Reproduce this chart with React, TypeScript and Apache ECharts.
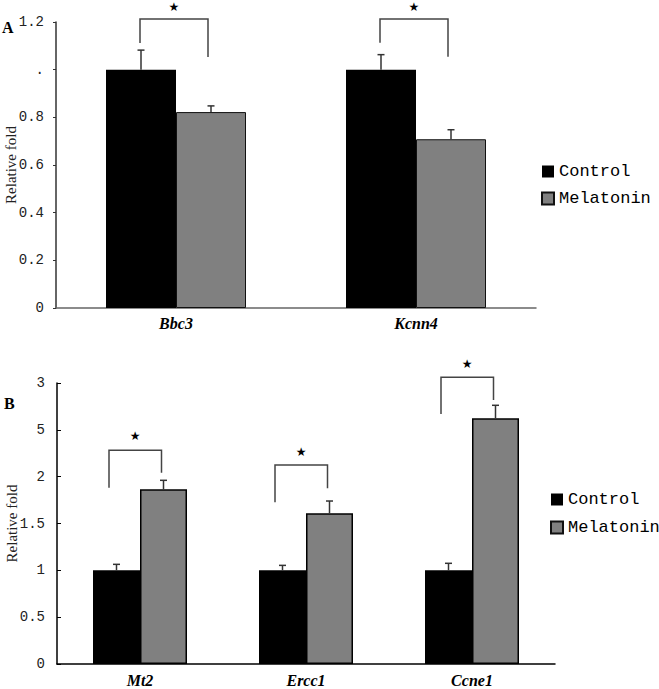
import React, { useEffect, useRef } from "react";
import * as echarts from "echarts";

// Panel A data
const categoriesA = ["Bbc3", "Kcnn4"];
const controlA = [1.0, 1.0];
const controlErrA = [0.082, 0.063];
const melatoninA = [0.822, 0.708];
const melatoninErrA = [0.026, 0.04];
const yLabelsA = ["0", "0.2", "0.4", "0.6", "0.8", ".", "1.2"];
// [category, leftBottom, rightBottom, top, star]
const bracketsA = [
  [0, 1.112, 1.053, 1.213, 1.262],
  [1, 1.113, 1.054, 1.213, 1.262],
];

// Panel B data
const categoriesB = ["Mt2", "Ercc1", "Ccne1"];
const controlB = [1.0, 1.0, 1.0];
const controlErrB = [0.064, 0.053, 0.075];
const melatoninB = [1.865, 1.609, 2.623];
const melatoninErrB = [0.096, 0.131, 0.139];
const yLabelsB = ["0", "0.5", "1", "1.5", "2", "5", "3"];
const bracketsB = [
  [0, 1.882, 2.042, 2.281, 2.434],
  [1, 1.726, 1.876, 2.124, 2.267],
  [2, 2.669, 2.818, 3.061, 3.203],
];

const seriesNames = ["Control", "Melatonin"];

const BW_A = 70;
const BW_B = 47;

function errSeries(axisIndex: number, vals: number[], errs: number[], offset: number) {
  return {
    type: "custom",
    xAxisIndex: axisIndex,
    yAxisIndex: axisIndex,
    silent: true,
    z: 5,
    data: vals.map((v, i) => [i, v + errs[i], v]),
    renderItem: (params: any, api: any) => {
      const idx = api.value(0);
      const top = api.coord([idx, api.value(1)]);
      const base = api.coord([idx, api.value(2)]);
      const x = top[0] + offset;
      const st = { stroke: "#333", lineWidth: 1.5 };
      return {
        type: "group",
        children: [
          { type: "line", shape: { x1: x, y1: base[1], x2: x, y2: top[1] }, style: st },
          { type: "line", shape: { x1: x - 3.5, y1: top[1], x2: x + 3.5, y2: top[1] }, style: st },
        ],
      };
    },
  };
}

function bracketSeries(axisIndex: number, brackets: number[][], lOff: number, rOff: number) {
  return {
    type: "custom",
    xAxisIndex: axisIndex,
    yAxisIndex: axisIndex,
    silent: true,
    z: 5,
    data: brackets,
    renderItem: (params: any, api: any) => {
      const idx = api.value(0);
      const lb = api.coord([idx, api.value(1)]);
      const rb = api.coord([idx, api.value(2)]);
      const tp = api.coord([idx, api.value(3)]);
      const sp = api.coord([idx, api.value(4)]);
      const xl = lb[0] + lOff;
      const xr = lb[0] + rOff;
      return {
        type: "group",
        children: [
          {
            type: "polyline",
            shape: {
              points: [
                [xl, lb[1]],
                [xl, tp[1]],
                [xr, tp[1]],
                [xr, rb[1]],
              ],
            },
            style: { stroke: "#444", lineWidth: 1.5, fill: "none" },
          },
          {
            type: "text",
            style: {
              text: "★",
              x: (xl + xr) / 2,
              y: sp[1],
              align: "center",
              verticalAlign: "middle",
              fontSize: 12,
              fontFamily: "DejaVu Sans",
              fill: "#000",
            },
          },
        ],
      };
    },
  };
}

export default function App() {
  const ref = useRef<HTMLDivElement>(null);
  useEffect(() => {
    const chart = echarts.init(ref.current!, null, { renderer: "svg" });
    const tickFont = { fontFamily: "Liberation Mono", fontSize: 14, color: "#222" };
    const catFont = (size: number) => ({
      fontFamily: "Liberation Serif",
      fontSize: size,
      fontStyle: "italic",
      fontWeight: "bold",
      color: "#000",
    });
    const nameStyle = { fontFamily: "Liberation Serif", fontSize: 15, color: "#222" };
    const legendText = { fontFamily: "Liberation Mono", fontSize: 17, color: "#000" };

    chart.setOption({
      animation: false,
      backgroundColor: "#fff",
      graphic: [
        { type: "text", left: 2, top: 19, style: { text: "A", fontFamily: "Liberation Serif", fontWeight: "bold", fontSize: 16, fill: "#000" } },
        { type: "text", left: 4, top: 395, style: { text: "B", fontFamily: "Liberation Serif", fontWeight: "bold", fontSize: 16, fill: "#000" } },
      ],
      legend: [
        {
          orient: "vertical",
          left: 536,
          top: 158,
          itemWidth: 12,
          itemHeight: 12,
          itemGap: 10,
          data: seriesNames,
          icon: "rect",
          textStyle: legendText,
          selectedMode: false,
        },
        {
          orient: "vertical",
          left: 545,
          top: 486,
          itemWidth: 12,
          itemHeight: 12,
          itemGap: 11,
          data: seriesNames,
          icon: "rect",
          textStyle: legendText,
          selectedMode: false,
        },
      ],
      grid: [
        { left: 56, top: 22, width: 480, height: 286, outerBoundsMode: "none", containLabel: false },
        { left: 57, top: 383, width: 498, height: 281, outerBoundsMode: "none", containLabel: false },
      ],
      xAxis: [
        {
          type: "category",
          gridIndex: 0,
          data: categoriesA,
          axisLine: { lineStyle: { color: "#666", width: 1.5 } },
          axisTick: { inside: true, length: 4, lineStyle: { color: "#666" } },
          axisLabel: { ...catFont(16), margin: 7 },
        },
        {
          type: "category",
          gridIndex: 1,
          data: categoriesB,
          axisLine: { lineStyle: { color: "#000", width: 1.5 } },
          axisTick: { inside: true, length: 4, lineStyle: { color: "#000" } },
          axisLabel: { ...catFont(16), margin: 8 },
        },
      ],
      yAxis: [
        {
          type: "value",
          gridIndex: 0,
          min: 0,
          max: 1.2,
          interval: 0.2,
          name: "Relative fold",
          nameLocation: "middle",
          nameGap: 38,
          nameMoveOverlap: false,
          nameTextStyle: nameStyle,
          axisLine: { show: true, lineStyle: { color: "#333", width: 1.5 } },
          axisTick: { show: true, length: 3, lineStyle: { color: "#333" } },
          splitLine: { show: false },
          axisLabel: { ...tickFont, margin: 12, formatter: (v: number, i: number) => yLabelsA[i] },
        },
        {
          type: "value",
          gridIndex: 1,
          min: 0,
          max: 3,
          interval: 0.5,
          name: "Relative fold",
          nameLocation: "middle",
          nameGap: 38,
          nameMoveOverlap: false,
          nameTextStyle: nameStyle,
          axisLine: { show: true, lineStyle: { color: "#000", width: 1.5 } },
          axisTick: { show: true, inside: true, length: 4, lineStyle: { color: "#000" } },
          splitLine: { show: false },
          axisLabel: { ...tickFont, margin: 12, formatter: (v: number, i: number) => yLabelsB[i] },
        },
      ],
      series: [
        {
          name: "Control",
          type: "bar",
          xAxisIndex: 0,
          yAxisIndex: 0,
          data: controlA,
          barWidth: BW_A,
          barGap: "0%",
          itemStyle: { color: "#000" },
        },
        {
          name: "Melatonin",
          type: "bar",
          xAxisIndex: 0,
          yAxisIndex: 0,
          data: melatoninA,
          barWidth: BW_A,
          barGap: "0%",
          itemStyle: { color: "#808080", borderColor: "#111", borderWidth: 1 },
        },
        {
          name: "Control",
          type: "bar",
          xAxisIndex: 1,
          yAxisIndex: 1,
          data: controlB,
          barWidth: BW_B,
          barGap: "0%",
          itemStyle: { color: "#000" },
        },
        {
          name: "Melatonin",
          type: "bar",
          xAxisIndex: 1,
          yAxisIndex: 1,
          data: melatoninB,
          barWidth: BW_B,
          barGap: "0%",
          itemStyle: { color: "#808080", borderColor: "#000", borderWidth: 1.5 },
        },
        errSeries(0, controlA, controlErrA, -BW_A / 2),
        errSeries(0, melatoninA, melatoninErrA, BW_A / 2),
        errSeries(1, controlB, controlErrB, -BW_B / 2),
        errSeries(1, melatoninB, melatoninErrB, BW_B / 2),
        bracketSeries(0, bracketsA, -36, 32),
        bracketSeries(1, bracketsB, -31, 21.5),
      ],
    });
    return () => chart.dispose();
  }, []);
  return (
    <div
      ref={ref}
      style={{ position: "fixed", left: 0, top: 0, width: 659, height: 689, background: "#fff" }}
    />
  );
}
